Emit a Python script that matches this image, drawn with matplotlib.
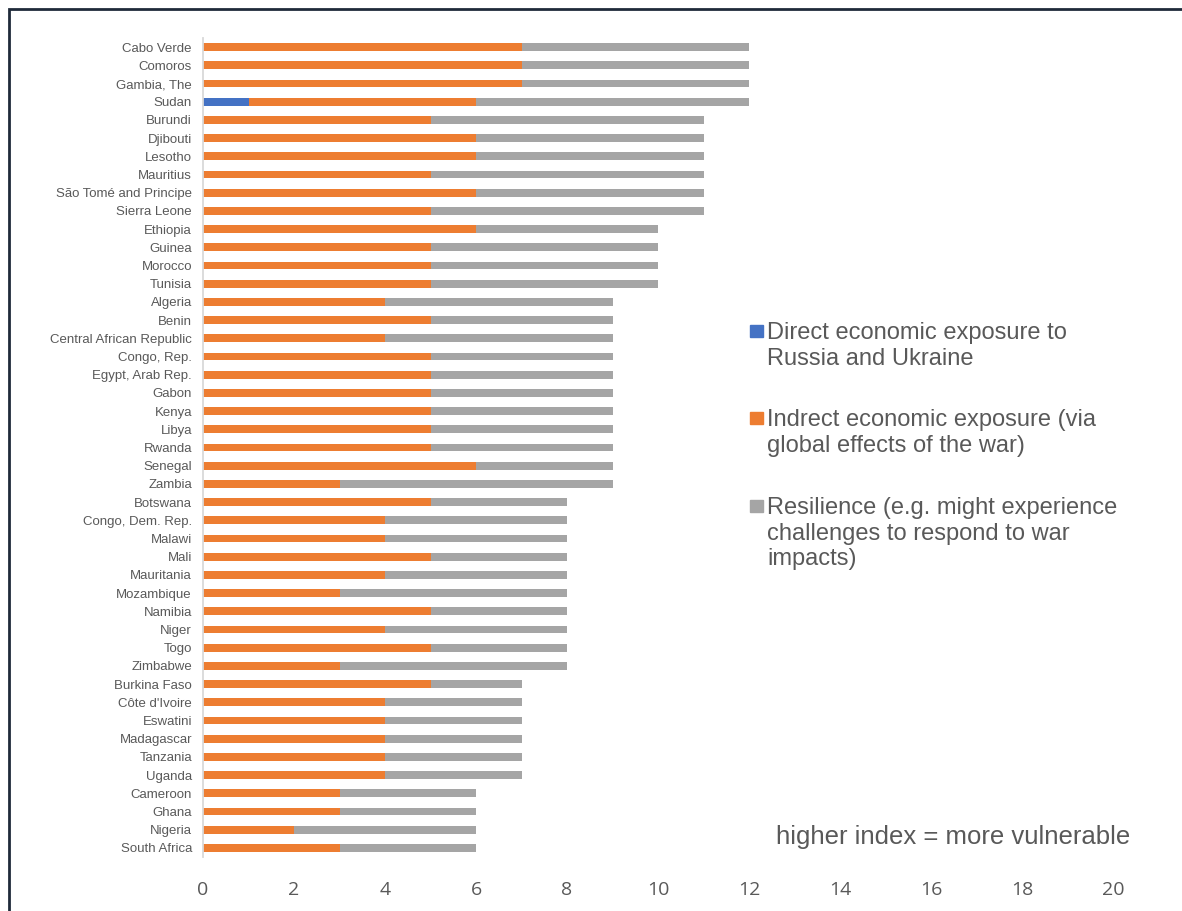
import matplotlib
matplotlib.use("Agg")
import matplotlib.pyplot as plt
from matplotlib.patches import Rectangle

# ── data ──────────────────────────────────────────────────────────────────────
countries = [
    "Cabo Verde", "Comoros", "Gambia, The", "Sudan", "Burundi", "Djibouti",
    "Lesotho", "Mauritius", "São Tomé and Principe", "Sierra Leone", "Ethiopia",
    "Guinea", "Morocco", "Tunisia", "Algeria", "Benin", "Central African Republic",
    "Congo, Rep.", "Egypt, Arab Rep.", "Gabon", "Kenya", "Libya", "Rwanda",
    "Senegal", "Zambia", "Botswana", "Congo, Dem. Rep.", "Malawi", "Mali",
    "Mauritania", "Mozambique", "Namibia", "Niger", "Togo", "Zimbabwe",
    "Burkina Faso", "Côte d'Ivoire", "Eswatini", "Madagascar", "Tanzania",
    "Uganda", "Cameroon", "Ghana", "Nigeria", "South Africa",
]
direct = [0, 0, 0, 1] + [0] * 41
indirect = [
    7, 7, 7, 5, 5, 6, 6, 5, 6, 5, 6, 5, 5, 5, 4, 5, 4, 5, 5, 5, 5, 5, 5, 6, 3,
    5, 4, 4, 5, 4, 3, 5, 4, 5, 3, 5, 4, 4, 4, 4, 4, 3, 3, 2, 3,
]
resilience = [
    5, 5, 5, 6, 6, 5, 5, 6, 5, 6, 4, 5, 5, 5, 5, 4, 5, 4, 4, 4, 4, 4, 4, 3, 6,
    3, 4, 4, 3, 4, 5, 3, 4, 3, 5, 2, 3, 3, 3, 3, 3, 3, 3, 4, 3,
]
series_labels = [
    "Direct economic exposure to\nRussia and Ukraine",
    "Indrect economic exposure (via\nglobal effects of the war)",
    "Resilience (e.g. might experience\nchallenges to respond to war\nimpacts)",
]
note = "higher index = more vulnerable"

COLORS = ["#4472C4", "#ED7D31", "#A5A5A5"]
TXT = "#595959"

# ── figure ────────────────────────────────────────────────────────────────────
W, H = 1182, 911
fig = plt.figure(figsize=(W / 100, H / 100), dpi=100)
ax = fig.add_axes([203 / W, 1 - 857 / H, (1113 - 203) / W, (857 - 38) / H])

n = len(countries)
ypos = list(range(n))
left2 = [d + i for d, i in zip(direct, indirect)]
ax.barh(ypos, direct, height=0.42, color=COLORS[0])
ax.barh(ypos, indirect, left=direct, height=0.42, color=COLORS[1])
ax.barh(ypos, resilience, left=left2, height=0.42, color=COLORS[2])

ax.set_ylim(n - 0.5, -0.5)
ax.set_xlim(0, 20)
ax.set_xticks(range(0, 21, 2))
ax.set_yticks(ypos)
ax.set_yticklabels(countries, fontsize=9.5, color=TXT, family="Liberation Sans")
for lab in ax.get_xticklabels():
    lab.set_family("Open Sans")
ax.tick_params(axis="x", length=0, pad=17, labelsize=14, labelcolor=TXT)
ax.tick_params(axis="y", length=0, pad=8)
for s in ["top", "right", "bottom"]:
    ax.spines[s].set_visible(False)
ax.spines["left"].set_color("#D9D9D9")
ax.spines["left"].set_linewidth(1.3)

# ── legend drawn by hand so the swatch sits on the first line ────────────────
leg_y = [331, 418, 506]
for col, lab, yc in zip(COLORS, series_labels, leg_y):
    fig.patches.append(Rectangle((750 / W, 1 - (yc + 6) / H), 13 / W, 12 / H,
                                 transform=fig.transFigure, color=col))
    fig.text(767 / W, 1 - (yc - 9) / H, lab, fontsize=17, color=TXT,
             family="Liberation Sans", va="top", ha="left", linespacing=1.22)

fig.text(776 / W, 1 - 837 / H, note, fontsize=18.5, color=TXT,
         family="Liberation Sans", va="center", ha="left")

# outer frame (only top and left edges fall inside the image)
fig.patches.append(Rectangle((9 / W, -0.05), 1.1, 1 - 9 / H + 0.05,
                             transform=fig.transFigure, fill=False,
                             edgecolor="#1F2A3A", linewidth=2))

fig.savefig("out.png", dpi=100)
